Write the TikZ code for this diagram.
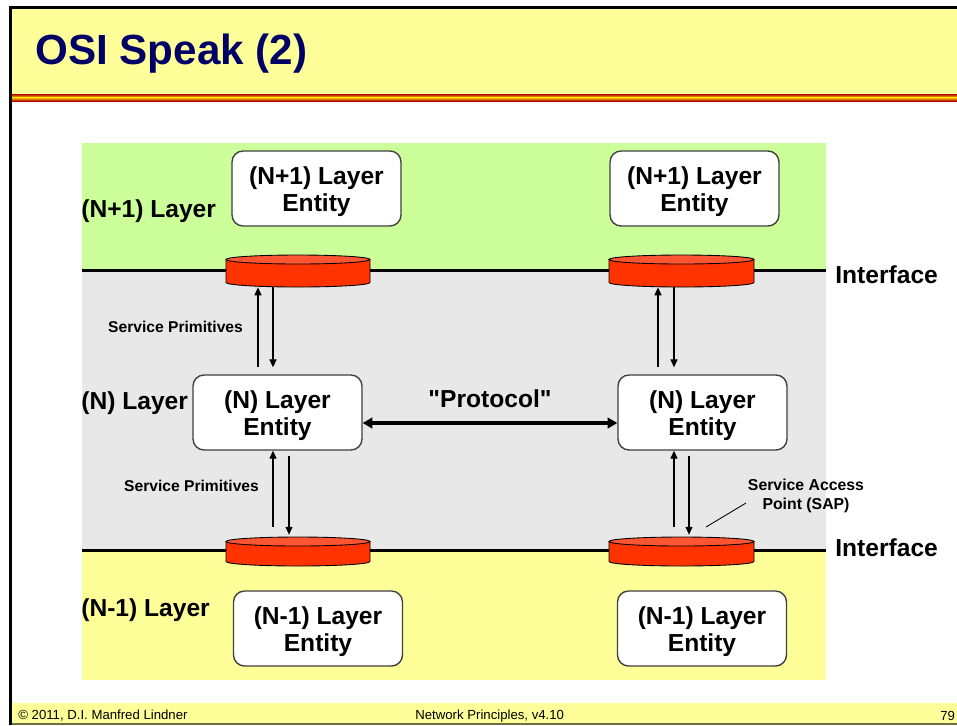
\documentclass[tikz,border=0pt]{standalone}
\usepackage{fontspec}
\setmainfont{Liberation Sans}[Ligatures=TeXOff]
\usetikzlibrary{arrows.meta,calc,fit}
\definecolor{hdryellow}{HTML}{FFFF99}
\definecolor{titleblue}{HTML}{000066}
\definecolor{layergreen}{HTML}{CCFF99}
\definecolor{layergray}{HTML}{E8E8E8}
\definecolor{layeryellow}{HTML}{FFFF99}
\definecolor{sapred}{HTML}{FF3300}
\definecolor{saptop}{HTML}{FF5533}
\definecolor{boxgray}{HTML}{404040}
\definecolor{stripedark}{HTML}{B00000}
\definecolor{stripemid}{HTML}{FFCC00}
\definecolor{footline}{HTML}{6E6E40}
\newcommand\sapcyl[5]{% name, left x, right x, top edge y, bottom edge y
  \fill[sapred] (#2,#4+4.5) -- (#2,#5-4.5) arc[start angle=180,end angle=0,x radius={(#3-#2)/2},y radius=4.5] -- (#3,#4+4.5) -- cycle;
  \draw[line width=0.5pt] (#2,#4+4.5) -- (#2,#5-4.5) arc[start angle=180,end angle=0,x radius={(#3-#2)/2},y radius=4.5] -- (#3,#4+4.5);
  \filldraw[fill=saptop,line width=0.5pt] ({(#2+#3)/2},#4+4.5) ellipse[x radius={(#3-#2)/2},y radius=4.5];
  \node[fit={(#2,#4) (#3,#5)},inner sep=0pt] (#1) {};
}
\newcommand\enttext[2]{\raisebox{-2.4pt}[\height][\depth]{\begin{tabular}{@{}c@{}}#1\\#2\end{tabular}}}
\begin{document}
\begin{tikzpicture}[x=0.02cm,y=-0.02cm,
  entity/.style={draw=boxgray,line width=0.8pt,fill=white,rounded corners=0.22cm,
    minimum width=3.38cm,minimum height=1.5cm,inner sep=0pt,
    font=\fontsize{14}{15.6}\selectfont\bfseries},
  biglabel/.style={anchor=west,inner sep=0pt,font=\fontsize{14}{16}\selectfont\bfseries},
  smalllabel/.style={inner sep=0pt,align=center,font=\fontsize{8.9}{10.4}\selectfont\bfseries},
  footlabel/.style={anchor=west,inner sep=0pt,font=\fontsize{7.5}{9}\selectfont},
  prim/.style={line width=0.6pt,-{Triangle[length=4.5pt,width=4pt]}},
  proto/.style={line width=1.8pt,{Triangle[length=5.5pt,width=6pt]}-{Triangle[length=5.5pt,width=6pt]}},
  ifline/.style={line width=1.7pt}]
\useasboundingbox (0,0) rectangle (957,725);
\fill[white] (0,0) rectangle (957,725);
% header
\fill[hdryellow] (10,8) rectangle (957,94);
\shade[top color=stripedark,bottom color=stripemid] (10,94) rectangle (957,97.5);
\shade[top color=stripemid,bottom color=stripedark] (10,97.5) rectangle (957,101);
\node[anchor=west,inner sep=0pt,text=titleblue,font=\fontsize{24}{28}\selectfont\bfseries] (title) at (35,54) {OSI Speak (2)};
% footer
\fill[hdryellow] (10,703) rectangle (957,723);
\draw[footline,line width=0.8pt] (10,724) -- (957,724);
\node[footlabel] (copy) at (18,716) {© 2011, D.I. Manfred Lindner};
\node[footlabel] (course) at (415,716) {Network Principles, v4.10};
\node[footlabel] (page) at (940,716) {79};
% frame
\draw[line width=1.5pt] (10.5,725) -- (10.5,7.5) -- (957,7.5);
% layer bands
\fill[layergreen] (82,143) rectangle (826,270);
\fill[layergray] (82,270) rectangle (826,550);
\fill[layeryellow] (82,550) rectangle (826,680);
% interface lines
\coordinate (ifa) at (82,270);
\coordinate (ifb) at (826,270);
\coordinate (ifc) at (82,550);
\coordinate (ifd) at (826,550);
\draw[ifline] (ifa) -- (ifb);
\draw[ifline] (ifc) -- (ifd);
\node[biglabel] (if1) at (835,275) {Interface};
\node[biglabel] (if2) at (835,548) {Interface};
% SAP cylinders
\sapcyl{cu1}{226}{370}{255}{287}
\sapcyl{cu2}{609}{754}{255}{287}
\sapcyl{cl1}{226}{370}{537}{566}
\sapcyl{cl2}{609}{754}{537}{566}
% entities
\node[entity] (b1) at (316.5,188.5) {\enttext{(N+1) Layer}{Entity}};
\node[entity] (b2) at (694.5,188.5) {\enttext{(N+1) Layer}{Entity}};
\node[entity] (m1) at (277.5,412.5) {\enttext{(N) Layer}{Entity}};
\node[entity] (m2) at (702.5,412.5) {\enttext{(N) Layer}{Entity}};
\node[entity] (l1) at (318,628.5) {\enttext{(N-1) Layer}{Entity}};
\node[entity] (l2) at (702,628.5) {\enttext{(N-1) Layer}{Entity}};
% layer labels
\node[biglabel] (lab1) at (81,211) {(N+1) Layer};
\node[biglabel] (lab2) at (81,403) {(N) Layer};
\node[biglabel] (lab3) at (81,610) {(N-1) Layer};
% service primitives (upper)
\draw[prim] ($(258,0 |- m1.north)+(0,-7)$) -- (258,0 |- cu1.south);
\draw[prim] (273,0 |- cu1.south) -- ($(273,0 |- m1.north)+(0,-7)$);
\draw[prim] ($(658,0 |- m2.north)+(0,-7)$) -- (658,0 |- cu2.south);
\draw[prim] (674,0 |- cu2.south) -- ($(674,0 |- m2.north)+(0,-7)$);
% service primitives (lower)
\draw[prim] ($(273,0 |- cl1.north)+(0,-10)$) -- (273,0 |- m1.south);
\draw[prim] ($(289,0 |- m1.south)+(0,5)$) -- ($(289,0 |- cl1.north)+(0,-2)$);
\draw[prim] ($(674,0 |- cl2.north)+(0,-10)$) -- (674,0 |- m2.south);
\draw[prim] ($(689,0 |- m2.south)+(0,5)$) -- ($(689,0 |- cl2.north)+(0,-2)$);
\node[smalllabel] (sp1) at (175.5,327) {Service Primitives};
\node[smalllabel] (sp2) at (191.5,486) {Service Primitives};
% protocol
\draw[proto] ($(m1.east)+(0,10.5)$) -- ($(m2.west)+(0,10.5)$);
\node[inner sep=0pt,font=\fontsize{14}{16}\selectfont\bfseries] (prot) at (490,399) {"Protocol"};
% SAP label
\node[smalllabel,font=\fontsize{9}{10.5}\selectfont\bfseries] (sap) at (806,496) {Service Access\\Point (SAP)};
\coordinate (sapend) at (706,527);
\draw[line width=0.5pt] (sapend) -- (746,503);
\end{tikzpicture}
\end{document}
